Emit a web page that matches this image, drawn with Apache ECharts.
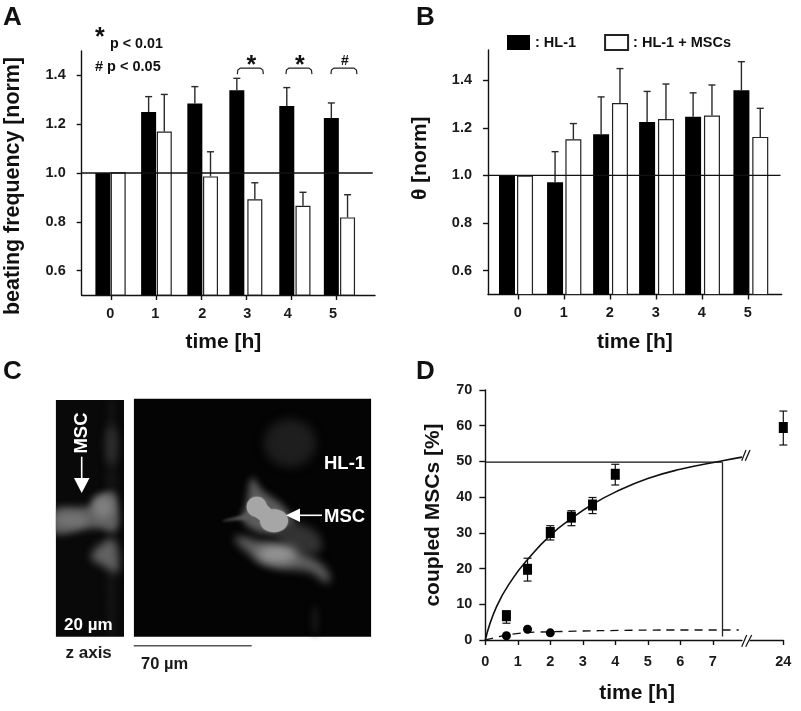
<!DOCTYPE html>
<html><head><meta charset="utf-8">
<script src="https://cdn.jsdelivr.net/npm/echarts@6/dist/echarts.min.js"></script>
<style>html,body{margin:0;background:#fff}#c{width:801px;height:711px}</style>
</head><body><div id="c"></div>
<script>
// ---- data ----
const hours = [0, 1, 2, 3, 4, 5];
const freqHL1 = [1.0, 1.25, 1.285, 1.339, 1.275, 1.225];
const freqHL1Err = [1.0, 1.313, 1.354, 1.388, 1.35, 1.287];
const freqMSC = [1.003, 1.17, 0.986, 0.892, 0.866, 0.818];
const freqMSCErr = [1.003, 1.322, 1.087, 0.96, 0.921, 0.911];
const thetaHL1 = [1.0, 0.972, 1.173, 1.225, 1.247, 1.358];
const thetaHL1Err = [1.0, 1.1, 1.33, 1.353, 1.347, 1.478];
const thetaMSC = [1.0, 1.152, 1.304, 1.237, 1.252, 1.162];
const thetaMSCErr = [1.0, 1.218, 1.449, 1.384, 1.38, 1.282];
const normTicks = [0.6, 0.8, 1.0, 1.2, 1.4];
const sigHours = [3, 4, 5];
const sigMarks = ['*', '*', '#'];
const coupledT = [0.65, 1.3, 2, 2.65, 3.3, 4];
const coupled = [6.8, 19.8, 30.1, 34.4, 37.8, 46.4];
const coupledLow = [4.7, 16.5, 28, 32, 35.4, 43.4];
const coupledHigh = [8.1, 22.9, 32, 36.2, 39.9, 49.2];
const coupled24 = 59.5, coupled24Low = 54.6, coupled24High = 64.1;
const controlT = [0.65, 1.3, 2];
const control = [1.2, 3, 2];
const fitT = [0, 0.35, 0.86, 1.31, 2, 2.65, 3.3, 4, 5, 6, 7.3, 7.9];
const fit = [0, 9.4, 17.4, 22.6, 29.3, 34, 38, 41.4, 45.2, 47.8, 50.2, 51.2];
const ctrlFitT = [0, 0.65, 1.3, 2, 3.5, 5.5, 7.8];
const ctrlFit = [0, 1.4, 2.1, 2.3, 2.6, 2.8, 2.8];
const halfT = 7.3, halfY = 49.8, halfFoot = 1;

// ---- layout (per-bar nudges, px-derived, in axis units) ----
const posA = { b: [-0.196, -0.18, -0.153, -0.22, -0.11, -0.12], w: [0.144, 0.168, 0.195, 0.18, 0.25, 0.24] };
const posB = { b: [-0.246, -0.201, -0.2, -0.2, -0.2, -0.15], w: [0.146, 0.197, 0.21, 0.21, 0.21, 0.26] };
const sigNudge = [0.08, 0.16, 0.16];
const FONT = '"Liberation Sans", Arial, sans-serif';
const INK = '#111';

const grids = [
  { left: 81.7, top: 51, width: 293.3, height: 244 },
  { left: 488, top: 50, width: 293.7, height: 244.5 },
  { left: 485.3, top: 390, width: 256.7, height: 250 },
  { left: 750, top: 390, width: 33.3, height: 250 }
];
const tickStyle = { show: true, length: 5, lineStyle: { color: INK, width: 1.4 } };
const lineStyle = { show: true, onZero: false, lineStyle: { color: INK, width: 1.4 } };
const labelStyle = { color: '#1a1a1a', fontFamily: FONT, fontWeight: 'bold', fontSize: 14.5 };
const nameStyle = { color: '#111', fontFamily: FONT, fontWeight: 'bold', fontSize: 21 };

function xAxisBar(gridIndex, min, max, name, shift, pad) {
  return {
    type: 'value', gridIndex, min, max, splitLine: { show: false },
    axisLine: lineStyle,
    axisTick: Object.assign({ customValues: hours }, tickStyle),
    axisLabel: Object.assign({ customValues: hours.map((h, i) => h + shift[i]), margin: 11, formatter: v => String(Math.round(v)) }, labelStyle),
    name, nameLocation: 'middle', nameGap: 37, nameTextStyle: Object.assign({ padding: pad }, nameStyle)
  };
}
function yAxisNorm(gridIndex, max, name, gap, pad, size) {
  return {
    type: 'value', gridIndex, min: 0.5, max, splitLine: { show: false },
    axisLine: lineStyle,
    axisTick: Object.assign({ customValues: normTicks }, tickStyle),
    axisLabel: Object.assign({ customValues: normTicks, margin: 16, formatter: v => v.toFixed(1) }, labelStyle),
    name, nameLocation: 'middle', nameGap: gap, nameTextStyle: Object.assign({}, nameStyle, { padding: pad, fontSize: size })
  };
}
function barSeries(name, idx, vals, pos, width, white) {
  return {
    type: 'bar', name, xAxisIndex: idx, yAxisIndex: idx, barWidth: width, barGap: '-100%', z: 2,
    itemStyle: white ? { color: '#fff', borderColor: '#222', borderWidth: 1.2 } : { color: '#000', borderColor: '#000', borderWidth: 0 },
    data: hours.map((h, i) => [h + pos[i], vals[i]])
  };
}
function upperErr(idx, vals, tops, pos) {
  return {
    type: 'custom', xAxisIndex: idx, yAxisIndex: idx, z: 3, silent: true, encode: { x: 0, y: [1, 2] },
    data: hours.map((h, i) => [h + pos[i], vals[i], tops[i]]).filter((d, i) => i > 0),
    renderItem(p, api) {
      const a = api.coord([api.value(0), api.value(1)]), b = api.coord([api.value(0), api.value(2)]);
      const s = { stroke: '#2a2a2a', lineWidth: 1.4 };
      return { type: 'group', children: [
        { type: 'line', shape: { x1: a[0], y1: a[1], x2: b[0], y2: b[1] }, style: s },
        { type: 'line', shape: { x1: b[0] - 3.5, y1: b[1], x2: b[0] + 3.5, y2: b[1] }, style: s }
      ] };
    }
  };
}
function refLine(idx, x0, x1) {
  return { type: 'line', xAxisIndex: idx, yAxisIndex: idx, z: 5, symbol: 'none', silent: true, clip: false,
    lineStyle: { color: '#111', width: 1.3 }, data: [[x0, 1], [x1, 1]] };
}
function rangeErr(xIdx, xs, low, high) {
  return {
    type: 'custom', xAxisIndex: xIdx, yAxisIndex: xIdx, z: 4, silent: true, clip: false, encode: { x: 0, y: [1, 2] },
    data: xs.map((x, i) => [x, low[i], high[i]]),
    renderItem(p, api) {
      const a = api.coord([api.value(0), api.value(1)]), b = api.coord([api.value(0), api.value(2)]);
      const s = { stroke: '#111', lineWidth: 1.2 };
      return { type: 'group', children: [
        { type: 'line', shape: { x1: a[0], y1: a[1], x2: b[0], y2: b[1] }, style: s },
        { type: 'line', shape: { x1: a[0] - 4, y1: a[1], x2: a[0] + 4, y2: a[1] }, style: s },
        { type: 'line', shape: { x1: b[0] - 4, y1: b[1], x2: b[0] + 4, y2: b[1] }, style: s }
      ] };
    }
  };
}
const pair = (xs, ys) => xs.map((x, i) => [x, ys[i]]);

// ---- significance brackets in panel A ----
const sigSeries = {
  type: 'custom', xAxisIndex: 0, yAxisIndex: 0, z: 6, silent: true, encode: { x: 0, y: 1 },
  data: sigHours.map((h, i) => [h + sigNudge[i], 1.43]),
  renderItem(p, api) {
    const c = api.coord([api.value(0), api.value(1)]), x = c[0], y = c[1], m = sigMarks[p.dataIndex];
    return { type: 'group', children: [
      { type: 'polyline', shape: { points: [[x - 13, y + 6], [x - 12.5, y + 2], [x - 10, y], [x + 10, y], [x + 12.5, y + 2], [x + 13, y + 6]] }, style: { stroke: '#222', lineWidth: 1.2, fill: null } },
      { type: 'text', style: { text: m, x: x + 1, y: m === '*' ? y - 2 : y - 7, align: 'center', verticalAlign: 'middle', font: m === '*' ? 'bold 25px ' + FONT : 'bold 14px ' + FONT, fill: '#111' } }
    ] };
  }
};

// ---- panel C: micrograph drawn as soft shapes ----
const OFF = 1200; // shapes sit off-canvas; only their blurred shadow lands in the panel
function txt(x, y, t, size, fill, extra) {
  return Object.assign({ type: 'text', silent: true, z: 20, x, y, style: Object.assign({ text: t, font: 'bold ' + size + 'px ' + FONT, fill: fill || '#111', align: 'left', verticalAlign: 'middle' }, extra || {}) });
}
function rect(x, y, w, h, fill, z) { return { type: 'rect', silent: true, z: z, shape: { x, y, width: w, height: h }, style: { fill } }; }
const softStyle = (c, b) => ({ fill: '#000', shadowColor: c, shadowBlur: b, shadowOffsetX: OFF });
function blob(points, c, b, z) {
  return { type: 'polygon', silent: true, z: z || 12, x: -OFF, shape: { points, smooth: 0.4 }, style: softStyle(c, b) };
}
function oval(cx, cy, rx, ry, c, b, z) {
  return { type: 'ellipse', silent: true, z: z || 12, x: -OFF, shape: { cx, cy, rx, ry }, style: softStyle(c, b) };
}
function solidOval(cx, cy, rx, ry, fill) {
  return { type: 'ellipse', silent: true, z: 14, shape: { cx, cy, rx, ry }, style: { fill, shadowColor: fill, shadowBlur: 2 } };
}
function seg(x1, y1, x2, y2, stroke, w, z) {
  return { type: 'line', silent: true, z: z || 15, shape: { x1, y1, x2, y2 }, style: { stroke, lineWidth: w } };
}
function tri(points) { return { type: 'polygon', silent: true, z: 15, shape: { points }, style: { fill: '#fff' } }; }

const graphicEls = [
  rect(55.7, 400, 68.3, 237, '#090909', 10),
  rect(133.7, 398.7, 237.6, 238, '#040404', 10),
  // left strip
  blob([[108, 402], [115, 402], [115, 635], [108, 635]], '#141414', 6, 11),
  oval(111.5, 445, 6, 20, '#303030', 9),
  blob([[54, 510], [90, 506], [95, 498], [112, 492], [117, 500], [116, 530], [95, 528], [54, 533]], '#626262', 7),
  oval(103, 507, 10, 11, '#808080', 8, 13),
  oval(72, 520, 15, 6, '#747474', 6, 13),
  blob([[91, 556], [113, 540], [118, 572], [107, 568]], '#626262', 8),
  rect(30, 380, 25.7, 275, '#fff', 14),
  rect(124, 380, 9.7, 275, '#fff', 14),
  rect(55, 385, 70, 15, '#fff', 14),
  rect(55, 636.7, 70, 8, '#fff', 14),
  // right field
  oval(290, 443, 26, 24, '#1e1e1e', 10),
  blob([[252, 478], [262, 490], [285, 508], [294, 528], [270, 534], [250, 528], [242, 518], [246, 506]], '#5c5c5c', 7),
  blob([[222, 521], [240, 516], [250, 512], [250, 519], [238, 520]], '#5a5a5a', 3),
  blob([[272, 526], [300, 524], [320, 537], [318, 553], [293, 549]], '#333333', 9),
  blob([[235, 537], [267, 543], [293, 550], [320, 563], [330, 577], [327, 583], [310, 572], [277, 568], [253, 557]], '#5e5e5e', 8),
  oval(277, 554, 20, 9, '#979797', 11, 13),
  oval(315, 620, 4, 15, '#161616', 6),
  solidOval(256.7, 506.7, 10, 10, '#a6a6a6'),
  solidOval(274, 520.7, 14, 11.5, '#a6a6a6'),
  { type: 'polygon', silent: true, z: 14, shape: { points: [[250, 513], [262, 500], [272, 510], [262, 522]] }, style: { fill: '#a6a6a6' } },
  rect(371.3, 395, 20, 250, '#fff', 14),
  // panel C annotations
  seg(81.7, 456.7, 81.7, 480, '#fff', 1.6), tri([[74, 478], [89.5, 478], [81.7, 493]]),
  seg(299, 515.3, 322, 515.3, '#fff', 1.6), tri([[286, 515.3], [300, 508.5], [300, 522]]),
  Object.assign(txt(81.7, 433, 'MSC', 18.5, '#fff', { align: 'center' }), { rotation: Math.PI / 2 }),
  txt(64, 625, '20 µm', 17, '#fff'),
  txt(324, 463.5, 'HL-1', 18.5, '#fff'),
  txt(324, 516.5, 'MSC', 18.5, '#fff'),
  txt(65.5, 653.5, 'z axis', 17, '#1a1a1a'),
  txt(141, 664.5, '70 µm', 16.5, '#1a1a1a'),
  seg(133.7, 645.7, 251.7, 645.7, '#555', 1.6),
  // panel letters
  txt(3, 18, 'A', 26), txt(416, 18, 'B', 26), txt(3, 372, 'C', 26), txt(416, 372, 'D', 26),
  // panel A key
  txt(95, 38, '*', 25), txt(110, 44.5, 'p < 0.01', 14.3), txt(95, 66.5, '# p < 0.05', 14.5),
  // axis-break marks, panel D
  seg(741.7, 460.7, 746, 450, '#111', 1.2), seg(745.3, 460.7, 750, 450, '#111', 1.2),
  seg(741.7, 646.7, 746.7, 635, '#111', 1.2), seg(745.7, 646.7, 751.7, 635, '#111', 1.2)
];

const option = {
  animation: false,
  backgroundColor: '#fff',
  textStyle: { fontFamily: FONT },
  grid: grids,
  legend: {
    left: 507, top: 34, padding: 0, itemWidth: 23, itemHeight: 15, itemGap: 28, icon: 'rect', selectedMode: false,
    data: ['HL-1', 'HL-1 + MSCs'], formatter: n => ': ' + n,
    textStyle: { fontFamily: FONT, fontWeight: 'bold', fontSize: 14.5, color: '#111' }
  },
  xAxis: [
    xAxisBar(0, -0.667, 5.85, 'time [h]', [-0.03, -0.03, 0.01, 0.01, -0.09, -0.08], [0, 10, 0, 0]),
    xAxisBar(1, -0.659, 5.726, 'time [h]', [-0.01, -0.01, -0.01, -0.01, -0.01, -0.01], [0, 0, 0, 0]),
    { type: 'value', gridIndex: 2, min: 0, max: 7.9, splitLine: { show: false }, axisLine: lineStyle,
      axisTick: Object.assign({ customValues: [0, 1, 2, 3, 4, 5, 6, 7] }, tickStyle),
      axisLabel: Object.assign({ customValues: [0, 1, 2, 3, 4, 5, 6, 7], margin: 14 }, labelStyle),
      name: 'time [h]', nameLocation: 'middle', nameGap: 43, nameTextStyle: Object.assign({ padding: [0, 0, 0, 47] }, nameStyle) },
    { type: 'value', gridIndex: 3, min: 23, max: 24, splitLine: { show: false }, axisLine: lineStyle,
      axisTick: Object.assign({ customValues: [24] }, tickStyle),
      axisLabel: Object.assign({ customValues: [24], margin: 14, align: 'center' }, labelStyle) }
  ],
  yAxis: [
    yAxisNorm(0, 1.5, 'beating frequency [norm]', 58, [0, 26, 0, 0], 21.4),
    yAxisNorm(1, 1.527, 'θ [norm]', 57, [0, 0, 0, 28], 21),
    { type: 'value', gridIndex: 2, min: 0, max: 70, interval: 10, splitLine: { show: false }, axisLine: lineStyle,
      axisTick: Object.assign({}, tickStyle, { length: 6 }),
      axisLabel: Object.assign({ margin: 13 }, labelStyle),
      name: 'coupled MSCs [%]', nameLocation: 'middle', nameGap: 42, nameTextStyle: nameStyle },
    { type: 'value', gridIndex: 3, min: 0, max: 70, show: false }
  ],
  series: [
    barSeries('HL-1', 0, freqHL1, posA.b, 15, false),
    barSeries('HL-1 + MSCs', 0, freqMSC, posA.w, 15, true),
    upperErr(0, freqHL1, freqHL1Err, posA.b),
    upperErr(0, freqMSC, freqMSCErr, posA.w),
    refLine(0, -0.667, 5.8),
    sigSeries,
    barSeries('HL-1', 1, thetaHL1, posB.b, 16, false),
    barSeries('HL-1 + MSCs', 1, thetaMSC, posB.w, 16, true),
    upperErr(1, thetaHL1, thetaHL1Err, posB.b),
    upperErr(1, thetaMSC, thetaMSCErr, posB.w),
    refLine(1, -0.659, 5.7),
    { type: 'line', xAxisIndex: 2, yAxisIndex: 2, smooth: 0.5, symbol: 'none', z: 3, silent: true, clip: false,
      lineStyle: { color: '#111', width: 1.6 }, data: pair(fitT, fit) },
    { type: 'line', xAxisIndex: 2, yAxisIndex: 2, symbol: 'none', z: 3, silent: true,
      lineStyle: { color: '#111', width: 1.3 }, data: [[0, halfY], [halfT, halfY]] },
    { type: 'line', xAxisIndex: 2, yAxisIndex: 2, symbol: 'none', z: 3, silent: true,
      lineStyle: { color: '#222', width: 1.3 }, data: [[halfT, halfY], [halfT, halfFoot]] },
    { type: 'line', xAxisIndex: 2, yAxisIndex: 2, smooth: 0.3, symbol: 'none', z: 3, silent: true,
      lineStyle: { color: '#111', width: 1.3, type: [8, 6] }, data: pair(ctrlFitT, ctrlFit) },
    rangeErr(2, coupledT, coupledLow, coupledHigh),
    rangeErr(3, [24], [coupled24Low], [coupled24High]),
    { type: 'scatter', xAxisIndex: 2, yAxisIndex: 2, symbol: 'rect', symbolSize: [9, 11], z: 5, clip: false,
      itemStyle: { color: '#000', opacity: 1 }, data: pair(coupledT, coupled) },
    { type: 'scatter', xAxisIndex: 3, yAxisIndex: 3, symbol: 'rect', symbolSize: [9, 11], z: 5, clip: false,
      itemStyle: { color: '#000', opacity: 1 }, data: [[24, coupled24]] },
    { type: 'scatter', xAxisIndex: 2, yAxisIndex: 2, symbol: 'circle', symbolSize: 9, z: 5, clip: false,
      itemStyle: { color: '#000', opacity: 1 }, data: pair(controlT, control) }
  ],
  graphic: { elements: graphicEls }
};
const chart = echarts.init(document.getElementById('c'), null, { renderer: 'canvas' });
chart.setOption(option);
</script></body></html>
